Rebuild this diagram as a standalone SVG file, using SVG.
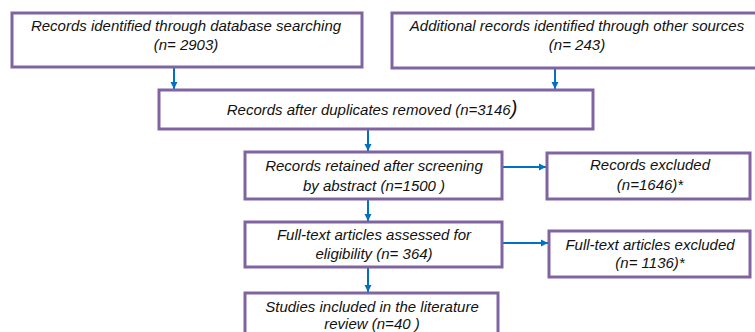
<svg xmlns="http://www.w3.org/2000/svg" width="755" height="332" viewBox="0 0 755 332">
<style>
.box{fill:#fff;stroke:#8064A2;stroke-width:3}
.t{font-family:"Liberation Sans",Arial,sans-serif;font-style:italic;font-size:15px;fill:#111;text-anchor:middle}
.c{stroke:#0070C0;stroke-width:2;fill:none;marker-end:url(#ah)}
</style>
<defs>
<marker id="ah" markerWidth="8" markerHeight="8" refX="7" refY="4" orient="auto" markerUnits="userSpaceOnUse">
<path d="M0,0.5 L7,4 L0,7.5 Z" fill="#0070C0"/>
</marker>
</defs>
<rect width="755" height="332" fill="#fff"/>
<g id="connectors">
<line class="c" x1="174" y1="68" x2="174" y2="89"/>
<line class="c" x1="555" y1="69" x2="555" y2="89"/>
<line class="c" x1="368" y1="130" x2="368" y2="151"/>
<line class="c" x1="503" y1="167" x2="546" y2="167"/>
<line class="c" x1="368" y1="200" x2="368" y2="221"/>
<line class="c" x1="503" y1="243" x2="548" y2="243"/>
<line class="c" x1="368" y1="268" x2="368" y2="292"/>
</g>
<g id="n1">
<rect class="box" x="12" y="13" width="350" height="54"/>
<text class="t" x="186" y="31">Records identified through database searching</text>
<text class="t" x="186" y="50">(n= 2903)</text>
</g>
<g id="n2">
<rect class="box" x="392" y="13" width="370" height="55"/>
<text class="t" x="577" y="31">Additional records identified through other sources</text>
<text class="t" x="577" y="50">(n= 243)</text>
</g>
<g id="n3">
<rect class="box" x="159" y="90" width="434" height="39"/>
<text class="t" x="372" y="115">Records after duplicates removed (n=3146<tspan font-size="20px">)</tspan></text>
</g>
<g id="n4">
<rect class="box" x="245" y="152" width="257" height="47"/>
<text class="t" x="374" y="171">Records retained after screening</text>
<text class="t" x="374" y="191">by abstract (n=1500 )</text>
</g>
<g id="n5">
<rect class="box" x="547" y="153" width="203" height="46"/>
<text class="t" x="650" y="170">Records excluded</text>
<text class="t" x="650" y="190">(n=1646)*</text>
</g>
<g id="n6">
<rect class="box" x="245" y="222" width="257" height="45"/>
<text class="t" x="374" y="240">Full-text articles assessed for</text>
<text class="t" x="374" y="259">eligibility (n= 364)</text>
</g>
<g id="n7">
<rect class="box" x="549" y="231" width="201" height="46"/>
<text class="t" x="650" y="250">Full-text articles excluded</text>
<text class="t" x="650" y="268">(n= 1136)*</text>
</g>
<g id="n8">
<rect class="box" x="245" y="293" width="253" height="42"/>
<text class="t" x="372" y="312">Studies included in the literature</text>
<text class="t" x="372" y="329">review (n=40 )</text>
</g>
</svg>
